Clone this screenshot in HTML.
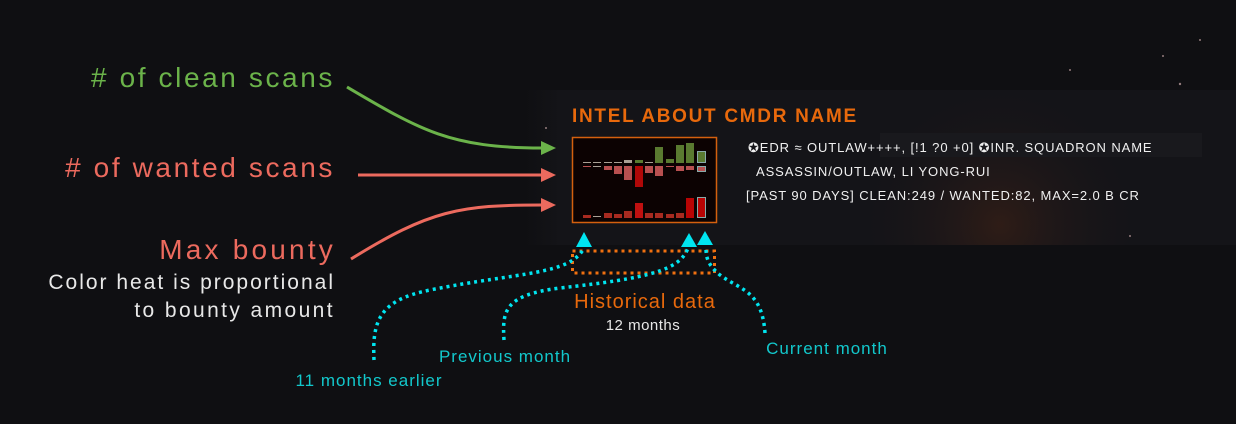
<!DOCTYPE html>
<html><head><meta charset="utf-8"><style>
html,body{margin:0;padding:0;background:#0f0f12;}
body{width:1236px;height:424px;overflow:hidden;position:relative;font-family:"Liberation Sans",sans-serif;}
</style></head><body>
<svg width="1236" height="424" viewBox="0 0 1236 424" xmlns="http://www.w3.org/2000/svg" style="position:absolute;left:0;top:0">
<defs>
<radialGradient id="glow" cx="1000" cy="225" r="150" gradientUnits="userSpaceOnUse">
<stop offset="0" stop-color="#3a2016" stop-opacity="0.7"/><stop offset="1" stop-color="#14141a" stop-opacity="0"/>
</radialGradient>
<linearGradient id="pan" x1="0" x2="1" y1="0" y2="0">
<stop offset="0" stop-color="#0f0f12"/><stop offset="0.05" stop-color="#141418"/><stop offset="1" stop-color="#141418"/>
</linearGradient>
</defs>
<rect width="1236" height="424" fill="#0f0f12"/>
<rect x="525" y="90" width="711" height="155" fill="url(#pan)"/>
<rect x="530" y="90" width="706" height="155" fill="url(#glow)"/>
<g fill="#caa" opacity="0.7"><circle cx="1180" cy="84" r="1.2"/><circle cx="1163" cy="56" r="1"/><circle cx="1130" cy="236" r="1"/><circle cx="546" cy="128" r="1"/><circle cx="1070" cy="70" r="1"/><circle cx="1200" cy="40" r="1"/></g>

<!-- left labels -->
<g font-size="28" text-anchor="end" letter-spacing="2.6">
<text x="335" y="87" fill="#6bb34a"># of clean scans</text>
<text x="335" y="177" fill="#ec6a5e"># of wanted scans</text>
<text x="336" y="259" fill="#ec6a5e" letter-spacing="3.2">Max bounty</text>
</g>
<g font-size="21" text-anchor="end" fill="#e8e8e8" letter-spacing="2">
<text x="335" y="289">Color heat is proportional</text>
<text x="335" y="317" letter-spacing="2.4">to bounty amount</text>
</g>
<!-- arrows -->
<path d="M347,87 C420,130 450,148 542,148" fill="none" stroke="#6bb34a" stroke-width="3"/>
<polygon points="541,141 556,148 541,155" fill="#6bb34a"/>
<line x1="358" y1="175" x2="542" y2="175" stroke="#ec6a5e" stroke-width="3"/>
<polygon points="541,168 556,175 541,182" fill="#ec6a5e"/>
<path d="M351,259 C430,210 460,205 542,205" fill="none" stroke="#ec6a5e" stroke-width="3"/>
<polygon points="541,198 556,205 541,212" fill="#ec6a5e"/>

<!-- title -->
<text x="572" y="122" font-size="19" font-weight="bold" fill="#e8690c" letter-spacing="1.7">INTEL ABOUT CMDR NAME</text>
<!-- chart -->
<rect x="572.5" y="137.5" width="144" height="85" fill="#0c0202" stroke="#d4600e" stroke-width="1.5"/>
<g fill="#aaa095">
<rect x="583" y="162" width="8" height="1"/><rect x="593" y="162" width="8" height="1"/><rect x="604" y="162" width="8" height="1"/><rect x="614" y="162" width="8" height="1"/>
<rect x="624" y="160" width="8" height="3"/><rect x="645" y="162" width="8" height="1"/><rect x="593" y="166" width="8" height="1"/><rect x="593" y="216" width="8" height="1"/>
</g>
<g fill="#5a7a30">
<rect x="635" y="160" width="8" height="3"/><rect x="655" y="147" width="8" height="16"/><rect x="666" y="159" width="8" height="4"/><rect x="676" y="145" width="8" height="18"/><rect x="686" y="143" width="8" height="20"/>
<rect x="697.5" y="151.5" width="8" height="11" stroke="#8aa" stroke-width="1"/>
</g>
<g fill="#b85050">
<rect x="583" y="166" width="8" height="1"/><rect x="604" y="166" width="8" height="4"/><rect x="614" y="166" width="8" height="8"/><rect x="624" y="166" width="8" height="14"/>
<rect x="645" y="166" width="8" height="7"/><rect x="655" y="166" width="8" height="10"/><rect x="666" y="166" width="8" height="1"/><rect x="676" y="166" width="8" height="5"/><rect x="686" y="166" width="8" height="4"/>
<rect x="697.5" y="166.5" width="8" height="5" stroke="#8aa" stroke-width="1"/>
</g>
<rect x="635" y="166" width="8" height="21" fill="#b00808"/>
<g fill="#a82a20">
<rect x="583" y="215" width="8" height="3"/><rect x="604" y="213" width="8" height="5"/><rect x="614" y="214" width="8" height="4"/><rect x="624" y="211" width="8" height="7"/>
<rect x="645" y="213" width="8" height="5"/><rect x="655" y="213" width="8" height="5"/><rect x="666" y="214" width="8" height="4"/><rect x="676" y="213" width="8" height="5"/>
</g>
<rect x="635" y="203" width="8" height="15" fill="#c01010"/>
<rect x="686" y="198" width="8" height="20" fill="#b80404"/>
<rect x="697.5" y="197.5" width="8" height="20" fill="#b80404" stroke="#8aa" stroke-width="1"/>

<!-- right text -->
<rect x="880" y="133" width="322" height="24" fill="#19191d"/>
<g font-size="13" fill="#f0f0f0" letter-spacing="0.9">
<text x="748" y="152">✪EDR ≈ OUTLAW++++, [!1 ?0 +0] ✪INR. SQUADRON NAME</text>
<text x="756" y="176">ASSASSIN/OUTLAW, LI YONG-RUI</text>
<text x="746" y="200">[PAST 90 DAYS] CLEAN:249 / WANTED:82, MAX=2.0 B CR</text>
</g>

<!-- historical data -->
<rect x="572.5" y="251" width="142" height="22" fill="none" stroke="#f07010" stroke-width="3" stroke-dasharray="3,4"/>
<g fill="none" stroke="#00e5f0" stroke-width="3.5" stroke-dasharray="3,4">
<path d="M374,360 C372,320 380,300 430,290 C520,272 570,275 584,248"/>
<path d="M504,340 C502,310 505,295 560,288 C650,278 680,270 688,248"/>
<path d="M765,333 C762,290 740,290 720,275 C708,265 706,258 706,248"/>
</g>
<g fill="#00e5f0">
<polygon points="576,247 584,232 592,247"/>
<polygon points="681,247 689,233 697,247"/>
<polygon points="697,245 705,231 713,245"/>
</g>
<text x="645" y="308" font-size="20" fill="#e8690c" text-anchor="middle" letter-spacing="1">Historical data</text>
<text x="643" y="330" font-size="15" fill="#e8e8e8" text-anchor="middle" letter-spacing="0.5">12 months</text>
<g font-size="17" fill="#12c8cc" text-anchor="middle" letter-spacing="1">
<text x="369" y="386">11 months earlier</text>
<text x="505" y="362">Previous month</text>
<text x="827" y="354">Current month</text>
</g>
</svg>
</body></html>
